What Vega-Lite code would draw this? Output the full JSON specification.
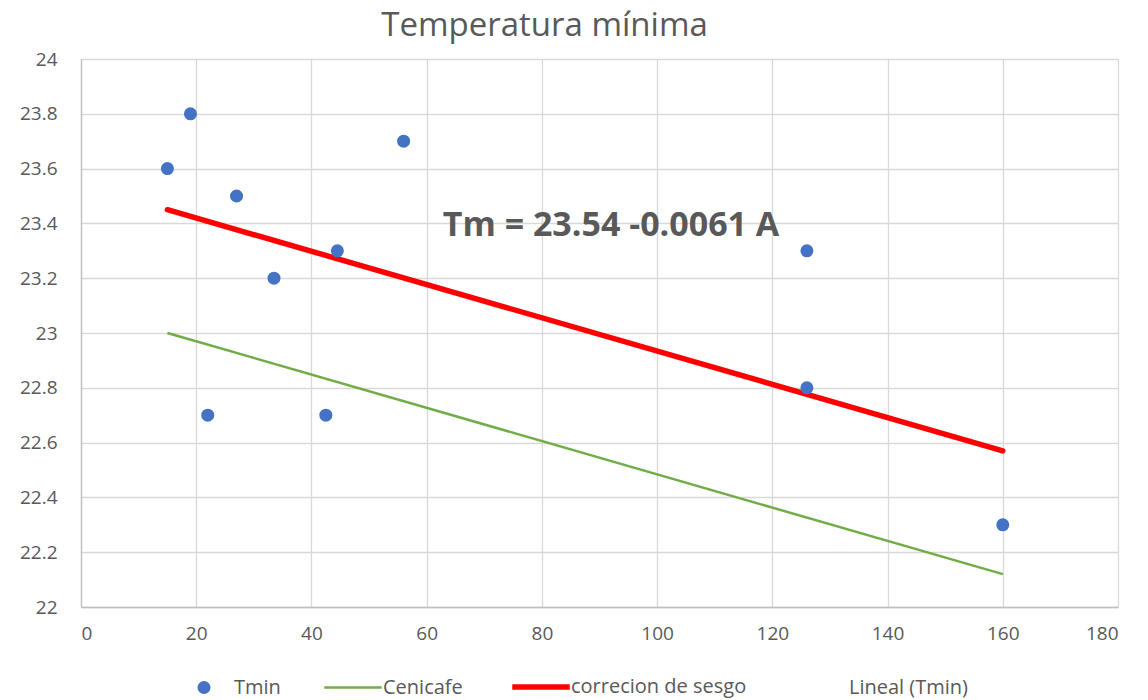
{
  "$schema": "https://vega.github.io/schema/vega-lite/v6.json",
  "width": 1037,
  "height": 548,
  "autosize": {"type": "none"},
  "padding": {"left": 81, "top": 59, "right": 30, "bottom": 93},
  "background": "white",
  "config": {
    "font": "Open Sans",
    "view": {"stroke": null},
    "axis": {
      "gridColor": "#D9D9D9",
      "gridWidth": 1.3,
      "domainColor": "#BFBFBF",
      "domainWidth": 1.3,
      "ticks": false,
      "labelColor": "#595959",
      "labelFontSize": 19,
      "labelFont": "Open Sans",
      "title": null
    }
  },
  "title": {
    "text": "Temperatura mínima",
    "fontSize": 33,
    "fontWeight": "normal",
    "color": "#595959",
    "font": "Open Sans",
    "anchor": "middle",
    "dx": -55,
    "offset": 7
  },
  "datasets": {
    "tmin": [
      {"A": 15, "T": 23.6, "serie": "Tmin"},
      {"A": 19, "T": 23.8, "serie": "Tmin"},
      {"A": 22, "T": 22.7, "serie": "Tmin"},
      {"A": 27, "T": 23.5, "serie": "Tmin"},
      {"A": 33.5, "T": 23.2, "serie": "Tmin"},
      {"A": 42.5, "T": 22.7, "serie": "Tmin"},
      {"A": 44.5, "T": 23.3, "serie": "Tmin"},
      {"A": 56, "T": 23.7, "serie": "Tmin"},
      {"A": 126, "T": 23.3, "serie": "Tmin"},
      {"A": 126, "T": 22.8, "serie": "Tmin"},
      {"A": 160, "T": 22.3, "serie": "Tmin"}
    ],
    "lines": [
      {"A": 15, "T": 23.0, "serie": "Cenicafe"},
      {"A": 160, "T": 22.12, "serie": "Cenicafe"},
      {"A": 15, "T": 23.45, "serie": "correcion de sesgo"},
      {"A": 160, "T": 22.57, "serie": "correcion de sesgo"}
    ],
    "ann": [
      {"A": 92, "T": 23.39, "label": "Tm = 23.54 -0.0061 A"}
    ]
  },
  "encoding": {
    "x": {
      "field": "A", "type": "quantitative",
      "scale": {"domain": [0, 180], "nice": false},
      "axis": {"values": [0, 20, 40, 60, 80, 100, 120, 140, 160, 180], "labelPadding": 17}
    },
    "y": {
      "field": "T", "type": "quantitative",
      "scale": {"domain": [22, 24], "nice": false, "zero": false},
      "axis": {"values": [22, 22.2, 22.4, 22.6, 22.8, 23, 23.2, 23.4, 23.6, 23.8, 24], "labelPadding": 24, "format": "~g"}
    },
    "color": {"field": "serie", "type": "nominal",
      "scale": {"domain": ["Tmin", "Cenicafe", "correcion de sesgo", "Lineal (Tmin)"], "range": ["#4472C4", "#70AD47", "#FF0000", "rgba(0,0,0,0)"]},
      "legend": {
        "orient": "none", "legendX": 113, "legendY": 618,
        "direction": "horizontal", "title": null,
        "labelFontSize": 20, "labelColor": "#595959", "labelFont": "Open Sans",
        "labelLimit": 400,
        "columnPadding": 38, "labelOffset": 20,
        "symbolType": "stroke", "symbolStrokeWidth": 2.5,
        "encode": {
          "symbols": {
            "update": {
              "shape": {"signal": "datum.value === 'Tmin' ? 'circle' : 'stroke'"},
              "size": {"signal": "datum.value === 'Tmin' ? 170 : 3300"},
              "strokeWidth": {"signal": "datum.value === 'Tmin' ? 0 : (datum.value === 'correcion de sesgo' ? 5.5 : 2.5)"},
              "fill": {"signal": "datum.value === 'Tmin' ? '#4472C4' : 'transparent'"}
            }
          }
        }
      }
    }
  },
  "layer": [
    {
      "data": {"name": "lines"},
      "transform": [{"filter": "datum.serie === 'Cenicafe'"}],
      "mark": {"type": "line", "strokeWidth": 2.5}
    },
    {
      "data": {"name": "lines"},
      "transform": [{"filter": "datum.serie === 'correcion de sesgo'"}],
      "mark": {"type": "line", "strokeWidth": 5.5, "strokeCap": "round"}
    },
    {
      "data": {"name": "tmin"},
      "mark": {"type": "point", "filled": true, "opacity": 1, "size": 170, "shape": "circle"}
    },
    {
      "data": {"name": "ann"},
      "mark": {"type": "text", "fontSize": 34, "fontWeight": "bold", "color": "#595959", "font": "Open Sans"},
      "encoding": {
        "text": {"field": "label"},
        "color": {"value": "#595959"}
      }
    }
  ]
}
